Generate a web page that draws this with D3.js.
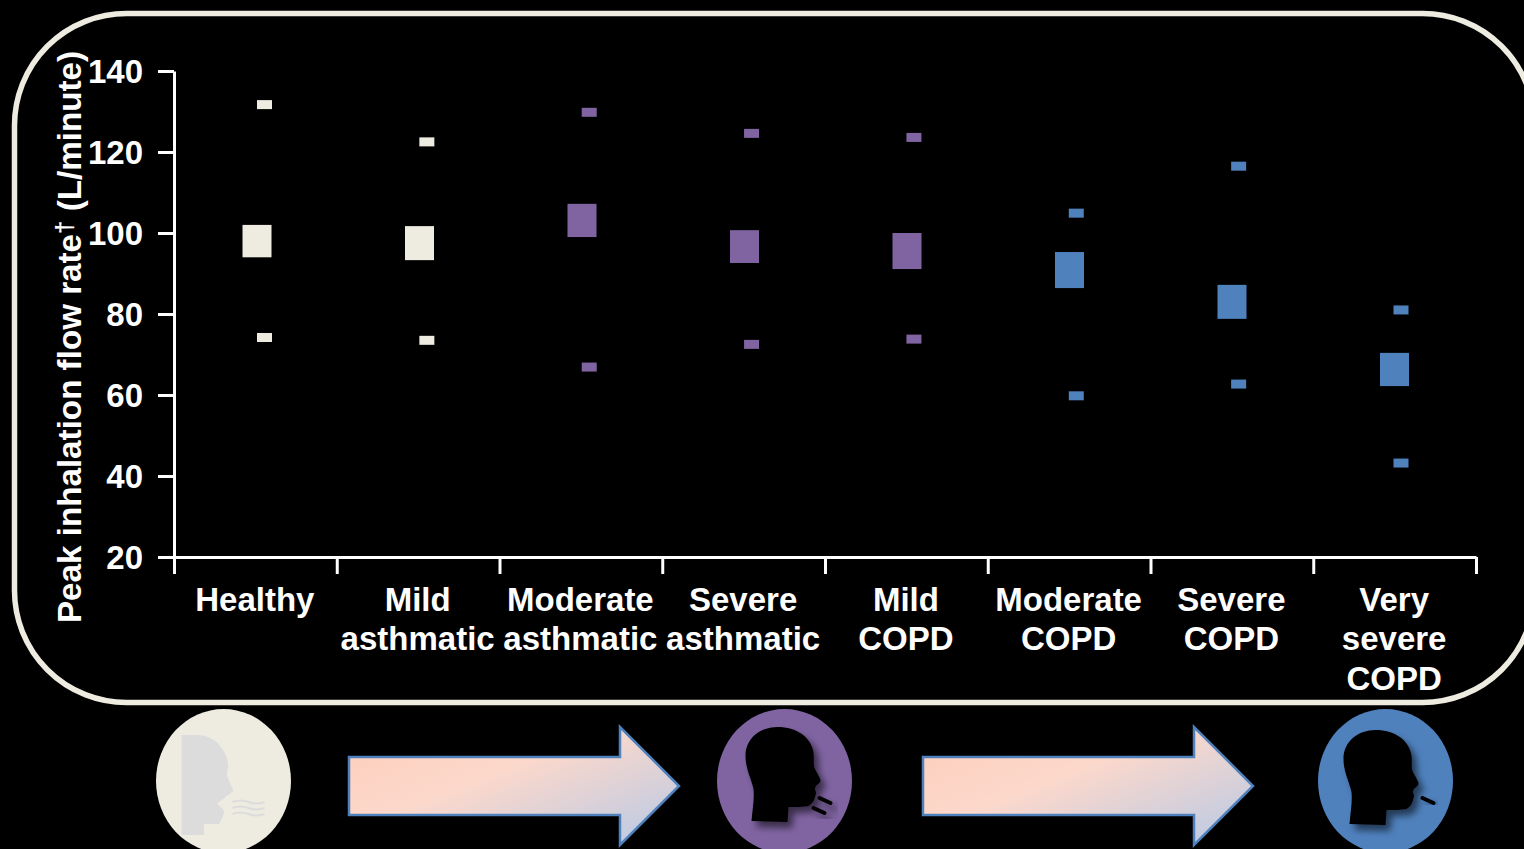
<!DOCTYPE html>
<html><head><meta charset="utf-8">
<script src="https://cdn.jsdelivr.net/npm/d3@7"></script>
<style>
html,body{margin:0;padding:0;background:#000;overflow:hidden}
svg{display:block}
text{font-family:"Liberation Sans",Arial,sans-serif;font-weight:700;fill:#fff}
</style></head><body>
<svg id="c" width="1524" height="849"></svg>
<script>
const categories = [
  ["Healthy"],
  ["Mild","asthmatic"],
  ["Moderate","asthmatic"],
  ["Severe","asthmatic"],
  ["Mild","COPD"],
  ["Moderate","COPD"],
  ["Severe","COPD"],
  ["Very","severe","COPD"]
];
const groups = ["healthy","healthy","asthma","asthma","asthma","copd","copd","copd"];
const boxHigh    = [102.0, 101.7, 107.2, 100.7, 100.0, 95.3, 87.2, 70.4];
const boxLow     = [ 94.0,  93.3,  99.0,  92.6,  91.1, 86.4, 78.8, 62.2];
const upperValue = [131.7, 122.5, 129.8, 124.6, 123.6, 104.9, 116.5, 81.0];
const lowerValue = [ 74.2,  73.5,  66.9,  72.5,  73.8,  59.8,  62.7, 43.2];
const yTicks = [20,40,60,80,100,120,140];

const colors = {healthy:"#eeece1", asthma:"#8064a2", copd:"#4f81bd"};
const svg = d3.select("#c");
const defs = svg.append("defs");

const shadow = defs.append("filter").attr("id","sh").attr("x","-30%").attr("y","-30%").attr("width","170%").attr("height","170%");
shadow.append("feDropShadow").attr("dx",5).attr("dy",6).attr("stdDeviation",3.5).attr("flood-color","#000").attr("flood-opacity",0.55);

const grad = defs.append("linearGradient").attr("id","ag").attr("gradientUnits","objectBoundingBox")
  .attr("x1",0.05).attr("y1",0.1).attr("x2",0.95).attr("y2",0.9);
grad.append("stop").attr("offset","0").attr("stop-color","#fdcfbd");
grad.append("stop").attr("offset","0.4").attr("stop-color","#fcd8cb");
grad.append("stop").attr("offset","1").attr("stop-color","#bfcbe3");

// frame
svg.append("rect").attr("x",14.5).attr("y",13.5).attr("width",1520).attr("height",689)
  .attr("rx",112).attr("ry",112).attr("fill","#000").attr("stroke",colors.healthy).attr("stroke-width",5.5);

const y = d3.scaleLinear().domain([20,140]).range([557,71]);
const x = d3.scaleBand().domain(d3.range(categories.length)).range([174,1476]);
const edge = d3.scaleLinear().domain([0,categories.length]).range([174,1476]);
const boxX = d3.scalePoint().domain(d3.range(categories.length)).range([257,1394.5]);
const markX = d3.scalePoint().domain(d3.range(categories.length)).range([264.5,1401]);

// axes
const gy = svg.append("g").attr("transform","translate(174,0)")
  .call(d3.axisLeft(y).tickValues(yTicks).tickSize(16).tickPadding(15).tickSizeOuter(0));
const gx = svg.append("g").attr("transform","translate(0,557)")
  .call(d3.axisBottom(edge).tickValues(d3.range(categories.length+1)).tickSize(17).tickFormat("").tickSizeOuter(0));
[gy,gx].forEach(g=>{
  g.selectAll("path.domain").attr("stroke","#fff").attr("stroke-width",3);
  g.selectAll(".tick line").attr("stroke","#fff").attr("stroke-width",3);
});
gy.selectAll("text").attr("fill","#fff").attr("dy","0.34em").style("font-size","33px")
  .style("font-family",'"Liberation Sans",Arial,sans-serif').style("font-weight",700);

// y title
const yt = svg.append("text").attr("transform","translate(81,337) rotate(-90)")
  .attr("text-anchor","middle").style("font-size","33.2px");
yt.append("tspan").text("Peak inhalation flow rate");
yt.append("tspan").text("†").attr("dy",-8).style("font-size","24px");
yt.append("tspan").text(" (L/minute)").attr("dy",8);

// category labels
const lab = svg.append("g").selectAll("text").data(categories).join("text")
  .attr("text-anchor","middle").style("font-size","33px")
  .attr("transform",(d,i)=>`translate(${x(i)+x.bandwidth()/2-0.5},611)`);
lab.selectAll("tspan").data(d=>d).join("tspan").attr("x",0).attr("y",(d,i)=>i*39.3).text(d=>d);

// marks
const boxW = 29, markW = 15, markH = 9;
const idx = d3.range(categories.length);
svg.append("g").selectAll("rect").data(idx).join("rect")
  .attr("x",i=>boxX(i)-boxW/2).attr("width",boxW)
  .attr("y",i=>y(boxHigh[i])).attr("height",i=>y(boxLow[i])-y(boxHigh[i]))
  .attr("fill",i=>colors[groups[i]]);
[upperValue,lowerValue].forEach(vals=>{
  svg.append("g").selectAll("rect").data(idx).join("rect")
    .attr("x",i=>markX(i)-markW/2).attr("width",markW)
    .attr("y",i=>y(vals[i])-markH/2).attr("height",markH)
    .attr("fill",i=>colors[groups[i]]);
});

// arrows
const arrowPath = "M0,-29 H271 V-59 L330,0 L271,59 V29 H0 Z";
[[349,786],[923,786]].forEach(p=>{
  svg.append("path").attr("d",arrowPath).attr("transform",`translate(${p[0]},${p[1]})`)
    .attr("fill","url(#ag)").attr("stroke","#4f81bd").attr("stroke-width",2.5);
});

// head icons
const headPath = "M-33,40 C-32,28 -30,18 -31,8 C-33,-2 -39,-12 -39,-25 C-39,-43 -24,-54 -7,-54 C12,-54 27,-44 29,-28 C30,-20 28,-16 31,-11 C33,-7 36,-3 36,0 C35,3 31,4 31,6 C29,9 33,11 31,14 C30,18 29,22 24,25 C18,26 10,26 4,26 L3,41 Z";
function icon(cx,color){
  const g = svg.append("g").attr("transform",`translate(${cx},781)`);
  g.append("ellipse").attr("rx",67.5).attr("ry",72).attr("fill",color);
  return g;
}
// healthy
const g1 = icon(223.5,colors.healthy);
g1.append("path").attr("fill","#dcdcdc")
  .attr("d","M-42,-46 H-27 C-15,-46 -6,-40 -2,-33 C3,-26 5,-20 4.5,-14 C4,-10 3,-8 3.5,-5 L10,10 L2,16 L-6.5,22.5 L1,30 L-1,36 L-4.5,43 L-19.5,43 V54 H-42 Z");
g1.append("g").attr("fill","none").attr("stroke","#dcdcdc").attr("stroke-width",2)
  .selectAll("path").data([21,27,33]).join("path")
  .attr("d",d=>`M9,${d} q8,-3 16,0 t16,0`);
// purple
const g2 = icon(784.5,colors.asthma);
g2.append("path").attr("d",headPath).attr("fill","#000").attr("filter","url(#sh)");
g2.append("g").attr("stroke","#000").attr("stroke-width",4).attr("stroke-linecap","round").attr("filter","url(#sh)")
  .selectAll("line").data([[35,17,46,22],[29,27,40,32]]).join("line")
  .attr("x1",d=>d[0]).attr("y1",d=>d[1]).attr("x2",d=>d[2]).attr("y2",d=>d[3]);
// blue
const g3 = icon(1385.5,colors.copd);
g3.append("path").attr("d",headPath).attr("transform","translate(-3,3)").attr("fill","#000").attr("filter","url(#sh)");
g3.append("line").attr("x1",37).attr("y1",17).attr("x2",48).attr("y2",22)
  .attr("stroke","#000").attr("stroke-width",4).attr("stroke-linecap","round").attr("filter","url(#sh)");
</script>
</body></html>
